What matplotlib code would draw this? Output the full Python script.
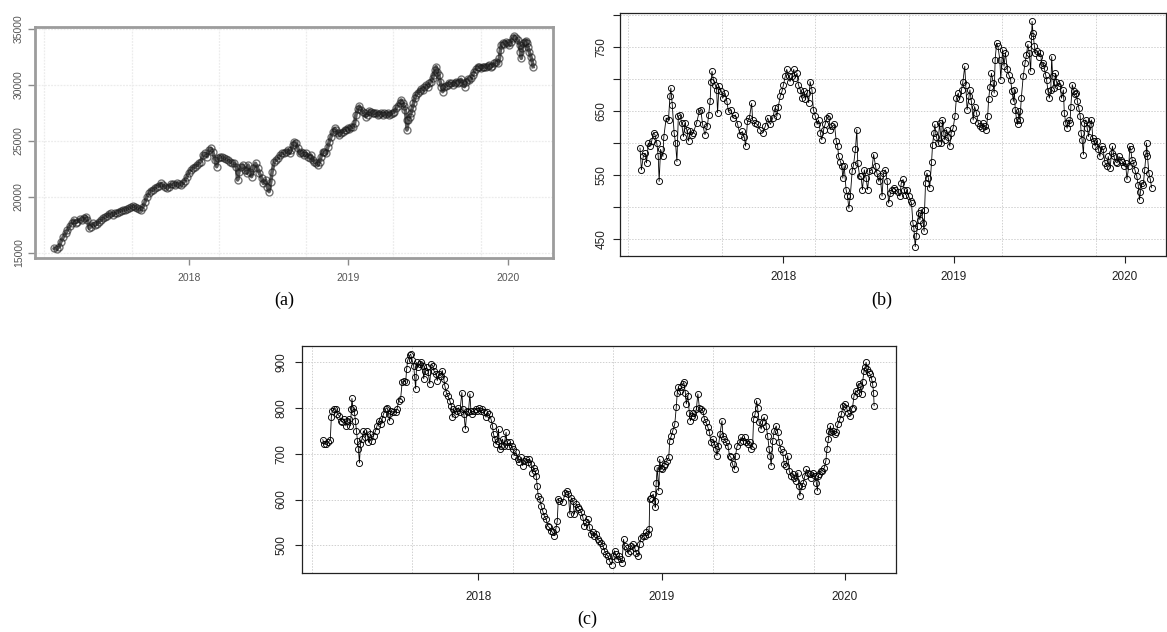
import matplotlib
matplotlib.use('Agg')
import matplotlib.pyplot as plt
import matplotlib.dates as mdates
import numpy as np
import pandas as pd

plt.rcParams['font.family'] = ['Liberation Sans', 'DejaVu Sans']

BASE = pd.Timestamp('2017-01-01')
EPOCH = pd.Timestamp('1970-01-01')

# ---------------- data (days since 2017-01-01, values) ----------------
a_days = [
    56, 61, 67, 71, 77, 82, 86, 91, 96, 100,
    105, 109, 114, 119, 123, 128, 132, 136, 140, 144,
    149, 154, 158, 163, 167, 172, 177, 181, 186, 190,
    195, 199, 204, 209, 213, 218, 222, 227, 232, 236,
    241, 245, 250, 254, 259, 264, 268, 273, 277, 282,
    286, 291, 296, 300, 305, 309, 314, 319, 323, 328,
    332, 337, 341, 346, 351, 355, 360, 364, 369, 373,
    378, 383, 387, 392, 396, 401, 406, 410, 415, 419,
    424, 428, 431, 436, 441, 445, 450, 454, 459, 464,
    468, 473, 476, 479, 483, 488, 493, 497, 500, 504,
    508, 512, 517, 522, 526, 531, 535, 540, 544, 548,
    552, 555, 560, 564, 569, 573, 578, 583, 587, 592,
    595, 599, 602, 606, 610, 614, 618, 622, 625, 629,
    633, 637, 641, 644, 648, 652, 656, 660, 664, 667,
    671, 675, 679, 683, 686, 690, 694, 698, 702, 705,
    709, 713, 717, 721, 725, 728, 732, 736, 740, 744,
    747, 751, 755, 759, 763, 767, 770, 774, 778, 782,
    786, 789, 793, 797, 801, 805, 809, 812, 816, 820,
    824, 828, 831, 835, 839, 843, 847, 851, 854, 858,
    860, 863, 864, 867, 870, 873, 876, 879, 882, 885,
    889, 893, 896, 900, 904, 908, 912, 915, 919, 923,
    925, 928, 931, 934, 937, 940, 943, 946, 950, 954,
    957, 961, 965, 969, 973, 976, 980, 984, 988, 992,
    996, 999, 1003, 1007, 1011, 1015, 1018, 1022, 1026, 1030,
    1034, 1038, 1041, 1045, 1049, 1053, 1057, 1060, 1064, 1068,
    1072, 1076, 1078, 1080, 1083, 1087, 1091, 1095, 1099, 1102,
    1106, 1110, 1114, 1118, 1122, 1124, 1126, 1128, 1131, 1134,
    1137, 1139, 1141, 1144, 1148, 1151, 1153]
a_vals = [
    15418, 15329, 15566, 16013, 16459, 16757, 17054, 17411, 17650, 17947,
    17709, 17798, 18007, 17947, 18096, 18245, 17947, 17204, 17352, 17650,
    17501, 17590, 17798, 17947, 18096, 18186, 18305, 18483, 18543, 18394,
    18543, 18602, 18692, 18781, 18840, 18840, 18900, 18989, 19078, 19197,
    19138, 18989, 18900, 18840, 19138, 19584, 20031, 20328, 20566, 20626,
    20775, 20924, 20983, 21221, 21072, 20924, 20775, 20924, 21132, 21162,
    21072, 21221, 21162, 21072, 21221, 21459, 21816, 22173, 22411, 22560,
    22709, 22858, 23007, 23155, 23751, 23900, 23602, 24197, 24346, 24048,
    23304, 22709, 23453, 23602, 23542, 23453, 23364, 23304, 23155, 23007,
    23007, 22709, 21519, 22262, 22709, 22858, 22411, 22114, 22858, 22262,
    21816, 22560, 23007, 22560, 22114, 21667, 21221, 21519, 20924, 20477,
    21370, 22262, 23155, 23304, 23453, 23751, 23900, 23900, 24048, 24197,
    23900, 24197, 24644, 24941, 24792, 24346, 23900, 24048, 23900, 23751,
    23900, 23602, 23453, 23751, 23304, 23155, 23007, 22858, 23155, 23602,
    24048, 24048, 23900, 24495, 24941, 25387, 25834, 26131, 25983, 25685,
    25536, 25745, 25834, 25983, 25983, 26131, 26042, 26280, 26221, 26578,
    27322, 27828, 28126, 27768, 27619, 27471, 27173, 27322, 27709, 27619,
    27471, 27530, 27471, 27322, 27411, 27530, 27322, 27471, 27411, 27471,
    27322, 27411, 27530, 27619, 27917, 28126, 28363, 28661, 28363, 28126,
    27768, 26875, 25983, 26875, 27173, 27471, 27917, 28363, 28810, 29107,
    29316, 29494, 29613, 29554, 29851, 30000, 29851, 30149, 30298, 30596,
    30893, 31340, 31637, 31191, 30893, 30298, 29851, 29405, 29851, 29911,
    30000, 30208, 30149, 30000, 30208, 30298, 30149, 30298, 30506, 30208,
    29851, 30298, 30506, 30446, 30596, 30893, 31191, 31399, 31637, 31637,
    31488, 31637, 31637, 31577, 31696, 31786, 31637, 31696, 31935, 32083,
    31935, 32381, 33125, 33571, 33720, 33661, 33869, 33720, 33571, 33869,
    34167, 34375, 34167, 34018, 33571, 32976, 32381, 33274, 33720, 33869,
    33958, 33720, 33423, 32976, 32530, 32083, 31637]

b_days = [
    58, 61, 65, 69, 72, 76, 79, 83, 87, 90,
    94, 97, 99, 102, 107, 109, 114, 119, 122, 124,
    127, 131, 134, 137, 140, 144, 147, 151, 154, 158,
    162, 165, 169, 172, 179, 185, 188, 192, 197, 202,
    205, 208, 210, 212, 215, 219, 222, 224, 227, 232,
    235, 240, 244, 247, 252, 257, 262, 267, 272, 277,
    281, 284, 288, 292, 297, 299, 304, 309, 315, 321,
    326, 331, 337, 342, 347, 351, 354, 358, 362, 365,
    369, 372, 376, 379, 383, 387, 390, 394, 397, 401,
    404, 408, 412, 415, 419, 422, 426, 429, 433, 437,
    440, 444, 447, 451, 454, 458, 462, 465, 469, 474,
    478, 481, 483, 487, 490, 492, 495, 499, 502, 505,
    508, 512, 515, 519, 522, 524, 528, 531, 534, 538,
    542, 545, 549, 554, 558, 562, 565, 569, 572, 576,
    579, 583, 587, 590, 594, 597, 601, 604,
    610, 614, 617, 621, 623, 626, 629, 633, 637, 639,
    642, 644, 647, 649, 652, 654, 657, 660, 664, 666,
    667, 669, 672, 675, 678, 682, 684, 687, 689, 692,
    696, 699, 703, 705, 708, 710, 714, 717, 721, 724,
    728, 732, 735, 739, 742, 746, 749, 753, 755, 758,
    762, 764, 767, 771, 774, 778, 782, 785, 789, 792,
    796, 799, 802, 804, 807, 810, 814, 816, 818, 821,
    824, 828, 830, 834, 837, 840, 844, 847, 851, 854,
    857, 859, 861, 864, 866, 869, 871, 874, 878, 882,
    885, 888, 891, 894, 896, 897, 899, 902, 904, 908,
    912, 915, 918, 921, 923, 926, 928, 931, 934, 937,
    939, 941, 944, 947, 949, 953, 957, 960, 964, 966,
    969, 972, 975, 978, 980, 983, 987, 989, 992, 994,
    997, 1000, 1002, 1004, 1007, 1009, 1012, 1015, 1018, 1021,
    1024, 1027, 1029, 1032, 1035, 1039, 1042, 1046, 1049, 1053,
    1057, 1060, 1064, 1067, 1069, 1072, 1076, 1079, 1083, 1087,
    1090, 1094, 1097, 1100, 1104, 1106, 1108, 1111, 1114, 1117,
    1121, 1124, 1127, 1129, 1132, 1135, 1138, 1141, 1142, 1144,
    1147, 1150, 1153]
b_vals = [
    592, 558, 579, 584, 569, 600, 595, 603, 616, 613,
    600, 579, 540, 590, 579, 610, 639, 636, 673, 686,
    660, 616, 600, 571, 642, 644, 631, 610, 631, 621,
    603, 618, 613, 616, 631, 650, 652, 629, 613, 626,
    644, 665, 696, 712, 699, 691, 683, 647, 689, 681,
    670, 678, 665, 650, 652, 639, 644, 629, 613, 618,
    610, 595, 634, 639, 662, 636, 631, 629, 621, 616,
    626, 639, 629, 639, 655, 642, 657, 673, 681, 691,
    704, 715, 704, 696, 704, 715, 702, 709, 691, 683,
    670, 681, 668, 678, 663, 696, 683, 652, 642, 629,
    636, 616, 605, 621, 629, 639, 642, 621, 626, 629,
    603, 595, 579, 571, 564, 545, 564, 527, 517, 498,
    517, 556, 566, 590, 621, 569, 548, 548, 527, 558,
    545, 527, 556, 558, 582, 564, 553, 540, 548, 517,
    553, 558, 540, 506, 522, 527, 530, 527,
    524, 517, 537, 543, 527, 519, 527, 517, 509, 506,
    475, 467, 438, 454, 470, 491, 480, 496, 475, 462,
    496, 537, 553, 545, 530, 571, 597, 616, 629, 610,
    600, 631, 600, 636, 616, 605, 621, 610, 595, 616,
    623, 642, 670, 678, 668, 683, 696, 720, 691, 652,
    673, 683, 665, 636, 657, 647, 631, 626, 623, 631,
    626, 621, 642, 668, 688, 709, 694, 678, 730, 756,
    751, 730, 699, 746, 720, 741, 715, 707, 699, 681,
    665, 683, 652, 636, 629, 650, 636, 670, 704, 725,
    738, 754, 741, 712, 767, 790, 772, 751, 741, 743,
    735, 741, 722, 725, 717, 707, 699, 681, 670, 683,
    735, 704, 686, 709, 696, 689, 694, 670, 683, 647,
    631, 623, 636, 631, 657, 691, 681, 676, 678, 665,
    655, 642, 616, 605, 582, 631, 636, 623, 610, 629,
    636, 608, 603, 595, 603, 590, 579, 595, 590, 569,
    564, 579, 561, 584, 595, 579, 571, 569, 579, 574,
    571, 564, 569, 543, 564, 595, 590, 574, 569, 558,
    548, 535, 511, 524, 537, 535, 558, 584, 600, 579,
    553, 543, 530]

c_days = [
    55, 58, 62, 66, 70, 72, 74, 78, 81, 84,
    88, 91, 94, 98, 101, 104, 108, 110, 112, 113,
    115, 118, 120, 122, 124, 126, 128, 130, 133, 136,
    140, 143, 146, 150, 153, 156, 160, 163, 166, 170,
    173, 176, 180, 183, 186, 188, 191, 195, 200, 203,
    206, 210, 213, 216, 220, 222, 224, 228, 230, 233,
    236, 238, 240, 242, 244, 248, 251, 254, 256, 258,
    262, 265, 268, 271, 274, 276, 280, 283, 286, 290,
    293, 296, 298, 301, 304, 308, 311, 313, 315, 318,
    322, 325, 328, 332, 334, 336, 339, 342, 345, 348,
    350, 353, 356, 360, 363, 366, 370, 373, 376, 380,
    383, 386, 390, 393, 395, 398, 400, 403, 405, 407,
    410, 413, 416, 420, 422, 424, 428, 431, 434, 436,
    440, 443, 446, 450, 453, 456, 460, 463, 466, 470,
    472, 475, 478, 480, 482, 484, 487, 490, 493, 496,
    500, 503, 506, 510, 513, 516, 519, 522, 524, 526,
    533, 538, 541, 544, 547, 550, 553, 556, 560, 563,
    566, 570, 573, 576, 580, 583, 586, 590, 593, 596,
    600, 603, 606, 610,
    613, 616, 620, 623, 626, 630, 633, 636, 638, 641,
    644, 648, 651, 654, 656, 660, 663, 666, 669, 673,
    676, 679, 683, 686, 689, 693, 696, 699, 703, 705,
    706, 709, 713, 716, 717, 719, 721, 724, 726, 728,
    730, 734, 737, 740, 744, 746, 749, 752, 756, 759,
    761, 763, 766, 769, 772, 774, 777, 779, 782, 785,
    787, 790, 792, 795, 799, 802, 805, 809, 812, 815,
    818, 822, 825, 828, 832, 835, 838, 840, 843, 846,
    850, 852, 855, 858, 862, 865, 868, 871, 875, 877,
    880, 885, 888, 891, 895, 898, 901, 905, 908, 911,
    913, 916, 919, 921, 924, 928, 931, 934, 938, 941,
    944, 946, 948, 951, 954, 958, 961, 964, 967, 971,
    974, 977, 981, 984, 987, 991, 994, 997, 1001, 1003,
    1005, 1009, 1012, 1015, 1018, 1022, 1025, 1028, 1032, 1035,
    1038, 1040, 1042, 1044, 1047, 1050, 1054, 1057, 1059, 1062,
    1064, 1066, 1068, 1071, 1075, 1078, 1081, 1085, 1088, 1091,
    1095, 1098, 1101, 1105, 1108, 1110, 1113, 1116, 1120, 1122,
    1125, 1128, 1130, 1133, 1135, 1137, 1139, 1142, 1145, 1148,
    1150, 1152, 1153]
c_vals = [
    731, 721, 721, 725, 731, 780, 794, 799, 798, 787,
    783, 772, 769, 776, 761, 772, 776, 761, 798, 821,
    801, 791, 772, 750, 729, 710, 680, 721, 732, 750,
    736, 750, 725, 743, 728, 739, 750, 761, 772, 765,
    776, 787, 798, 801, 787, 772, 794, 791, 791, 798,
    816, 820, 856, 860, 856, 885, 904, 915, 918, 904,
    893, 867, 842, 900, 889, 896, 900, 893, 864, 882,
    889, 878, 853, 896, 893, 882, 875, 860, 875, 871,
    882, 864, 849, 834, 827, 816, 805, 780, 798, 787,
    794, 801, 791, 834, 798, 787, 754, 794, 791, 831,
    794, 787, 794, 798, 794, 801, 794, 798, 791, 780,
    791, 787, 776, 761, 743, 732, 721, 728, 754, 710,
    717, 732, 717, 747, 725, 717, 725, 717, 710, 696,
    703, 688, 681, 692, 674, 685, 688, 681, 688, 677,
    659, 670, 663, 652, 630, 608, 601, 586, 575, 564,
    557, 542, 539, 531, 528, 521, 535, 553, 601, 597,
    595, 615, 619, 612, 568, 604, 597, 568, 590, 583,
    579, 572, 561, 542, 550, 557, 539, 524, 528, 521,
    524, 513, 510, 506,
    499, 488, 480, 477, 466, 458, 477, 488, 480, 469,
    477, 469, 462, 513, 499, 495, 484, 488, 499, 502,
    495, 484, 477, 502, 517, 521, 521, 528, 524, 535,
    601, 604, 612, 597, 583, 637, 670, 619, 688, 670,
    666, 674, 677, 685, 692, 729, 739, 750, 765, 802,
    834, 845, 838, 845, 853, 856, 834, 809, 827, 790,
    772, 783, 790, 780, 798, 831, 801, 798, 794, 776,
    769, 758, 747, 725, 732, 721, 710, 696, 717, 743,
    772, 739, 732, 725, 717, 696, 692, 677, 666, 696,
    717, 725, 736, 728, 736, 725, 721, 725, 710, 717,
    776, 787, 816, 801, 769, 754, 769, 780, 761, 739,
    710, 696, 674, 728, 750, 761, 747, 725, 710, 703,
    677, 674, 696, 663, 652, 655, 648, 641, 659, 630,
    608, 630, 637, 652, 666, 659, 655, 648, 659, 652,
    637, 619, 652, 655, 663, 663, 670, 685, 710, 732,
    750, 761, 747, 750, 743, 747, 765, 776, 787, 805,
    809, 801, 790, 783, 798, 801, 827, 838, 834, 853,
    849, 831, 856, 882, 889, 900, 885, 878, 874, 864,
    853, 834, 805]

year_ticks = ['2018-01-01', '2019-01-01', '2020-01-01']
year_labels = ['2018', '2019', '2020']

# ---------------- helpers ----------------
W, H = 1167, 632


def days_to_num(days, base=BASE):
    return mdates.date2num(base + pd.to_timedelta(np.asarray(days, dtype=float), unit='D'))


def rect(l, t, r, b):
    return [l / W, 1 - b / H, (r - l) / W, (b - t) / H]


grid_x = days_to_num(np.arange(17200, 18201, 200), base=EPOCH)
tick_x = mdates.date2num(pd.to_datetime(year_ticks))

fig = plt.figure(figsize=(W / 100, H / 100), dpi=100)


def make_panel(r, days, vals, xlim_days, ylim, yticks, ylabels, hgrid, kind):
    ax = fig.add_axes(rect(*r))
    x = days_to_num(days)
    if kind == 'a':
        gcol, gls, glw = '#ececec', (0, (1.5, 1.0)), 0.9
    else:
        gcol, gls, glw = '#d0d0d0', (0, (1.5, 1.5)), 0.7
    for gx in grid_x:
        ax.axvline(gx, color=gcol, ls=gls, lw=glw, zorder=0)
    for gy in hgrid:
        ax.axhline(gy, color=gcol, ls=gls, lw=glw, zorder=0)
    if kind == 'a':
        ax.plot(x, vals, '-', color='#1a1a1a', lw=2.6, alpha=0.7, zorder=2)
        ax.plot(x, vals, 'o', ms=5.0, mfc='none', mec='#1a1a1a', mew=1.0,
                alpha=0.6, zorder=3)
    else:
        ax.plot(x, vals, '-', color='black', lw=0.6, zorder=2,
                marker='o', ms=4.4, mfc='none', mec='black', mew=0.65)
    ax.set_xlim(days_to_num(xlim_days, base=EPOCH))
    ax.set_ylim(*ylim)
    ax.set_xticks(tick_x)
    ax.set_xticklabels(year_labels)
    ax.set_yticks(yticks)
    ax.set_yticklabels(ylabels, rotation=90, va='center')
    if kind == 'a':
        for s in ax.spines.values():
            s.set_color('#9c9c9c')
            s.set_linewidth(2.0)
        ax.tick_params(axis='both', direction='out', length=5, width=1.0,
                       color='#8a8a8a', labelcolor='#555555', labelsize=7.5)
        ax.tick_params(axis='x', pad=6)
        ax.tick_params(axis='y', pad=3)
    else:
        for s in ax.spines.values():
            s.set_color('#222222')
            s.set_linewidth(0.9)
        ax.tick_params(axis='both', direction='out', length=5, width=0.8,
                       color='#222222', labelcolor='#222222', labelsize=8.5)
        if kind == 'b':
            ax.tick_params(axis='x', pad=6)
            ax.tick_params(axis='y', pad=4)
        else:
            ax.tick_params(axis='x', pad=8)
            ax.tick_params(axis='y', pad=5)
    return ax


make_panel((35, 26.7, 552.7, 257.7), a_days, a_vals, (17178.7, 18365),
           (14580, 35205), [15000, 20000, 25000, 30000, 35000],
           ['15000', '20000', '25000', '30000', '35000'],
           [15000, 20000, 25000, 30000, 35000], 'a')

make_panel((620, 12.7, 1166, 256), b_days, b_vals, (17182.2, 18350.6),
           (423.4, 803.6), [450, 500, 550, 600, 650, 700, 750, 800],
           ['450', '', '550', '', '650', '', '750', ''],
           [450, 500, 550, 600, 650, 700, 750, 800], 'b')

make_panel((301.7, 345.7, 895.7, 573.3), c_days, c_vals, (17180, 18363),
           (438.8, 936.3), [500, 600, 700, 800, 900],
           ['500', '600', '700', '800', '900'],
           [500, 600, 700, 800, 900], 'c')

serif = ['Liberation Serif', 'DejaVu Serif']
fig.text(284 / W, 1 - 300 / H, '(a)', ha='center', va='center', fontsize=13, family=serif)
fig.text(882 / W, 1 - 300 / H, '(b)', ha='center', va='center', fontsize=13, family=serif)
fig.text(587 / W, 1 - 619 / H, '(c)', ha='center', va='center', fontsize=13, family=serif)

fig.savefig('out.png', dpi=100)
